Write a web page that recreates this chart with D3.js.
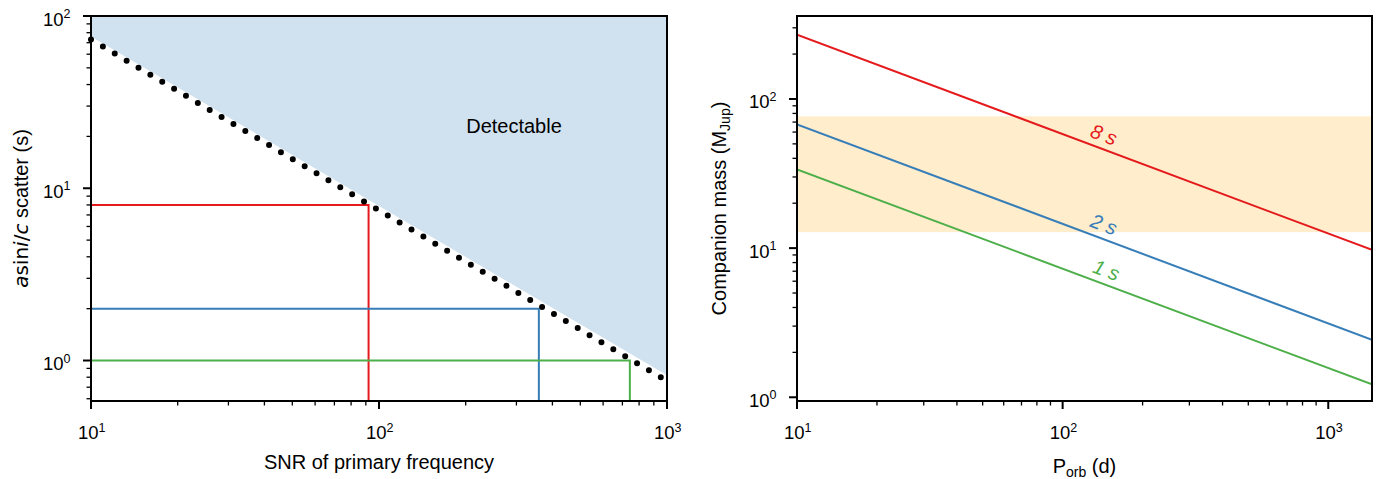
<!DOCTYPE html>
<html><head><meta charset="utf-8">
<script src="https://cdn.jsdelivr.net/npm/d3@7/dist/d3.min.js"></script>
<style>
body{margin:0;background:#fff;}
text{font-family:"Liberation Sans",Arial,sans-serif;fill:#000;}
</style></head>
<body><svg id="c" width="1382" height="479"></svg>
<script>
// ---- data ----
const snrDomain = [10, 1000];
const asiniDomain = [0.582, 100];
const boundarySNR = [10, 1000];
const boundaryAsini = [73, 0.76];        // dotted detection limit
const fillEdgeAsini = [76, 0.82];        // edge of shaded region
const cases = ["8 s", "2 s", "1 s"];
const caseAsini = [8, 2, 1];
const caseSNR = [92, 359, 743];
const caseColors = ["#e41a1c", "#377eb8", "#4daf4a"];

const porbDomain = [10, 1461];
const massDomain = [0.944, 360];
const porbEnds = [10, 1461];
const mass8 = [270, 9.73];
const mass2 = [67.5, 2.43];
const mass1 = [33.7, 1.22];
const massSeries = [mass8, mass2, mass1];
const bandMass = [12.8, 76.5];
const labelPorb = [137, 137, 140];

const svg = d3.select("#c");
const TICKF = 18.5, SUPF = 12.5, LABF = 20;

function sup(sel, base, exp){
  sel.append("tspan").text(base);
  sel.append("tspan").attr("dy",-7.5).attr("font-size",SUPF).text(exp);
}

function logAxes(g, x, y, x0, x1, y0, y1){
  const decX = d3.range(Math.ceil(Math.log10(x.domain()[0])-1e-9), Math.floor(Math.log10(x.domain()[1])+1e-9)+1);
  const decY = d3.range(Math.ceil(Math.log10(y.domain()[0])-1e-9), Math.floor(Math.log10(y.domain()[1])+1e-9)+1);
  const minor = (dom)=>{const r=[];for(let e=Math.floor(Math.log10(dom[0]));e<=Math.ceil(Math.log10(dom[1]));e++){for(let m=2;m<=9;m++){const v=m*Math.pow(10,e);if(v>=dom[0]*0.9999&&v<=dom[1]*1.0001)r.push(v);}}return r;};
  const ax = g.append("g");
  minor(x.domain()).forEach(v=>ax.append("line").attr("x1",x(v)).attr("x2",x(v)).attr("y1",y1).attr("y2",y1+4.5).attr("stroke","#000").attr("stroke-width",1.3));
  decX.forEach(e=>{
    const v=Math.pow(10,e);
    ax.append("line").attr("x1",x(v)).attr("x2",x(v)).attr("y1",y1).attr("y2",y1+8).attr("stroke","#000").attr("stroke-width",2);
    const t=ax.append("text").attr("x",x(v)-13).attr("y",y1+38).attr("font-size",TICKF);
    sup(t,"10",e);
  });
  minor(y.domain()).forEach(v=>ax.append("line").attr("y1",y(v)).attr("y2",y(v)).attr("x1",x0).attr("x2",x0-4.5).attr("stroke","#000").attr("stroke-width",1.3));
  decY.forEach(e=>{
    const v=Math.pow(10,e);
    ax.append("line").attr("y1",y(v)).attr("y2",y(v)).attr("x1",x0).attr("x2",x0-8).attr("stroke","#000").attr("stroke-width",2);
    const t=ax.append("text").attr("x",x0-48).attr("y",y(v)+9.5).attr("font-size",TICKF);
    sup(t,"10",e);
  });
  g.append("rect").attr("x",x0).attr("y",y0).attr("width",x1-x0).attr("height",y1-y0)
    .attr("fill","none").attr("stroke","#000").attr("stroke-width",2);
}

// ---- left panel ----
{
  const L=91,R=667,T=16,B=401;
  const x=d3.scaleLog().domain(snrDomain).range([L,R]);
  const y=d3.scaleLog().domain(asiniDomain).range([B,T]);
  const g=svg.append("g");
  g.append("defs").append("clipPath").attr("id","clipL").append("rect").attr("x",L).attr("y",T).attr("width",R-L).attr("height",B-T);
  const pg=g.append("g").attr("clip-path","url(#clipL)");
  const fillPts=boundarySNR.map((s,i)=>[s,fillEdgeAsini[i]]);
  pg.append("path").datum(fillPts)
    .attr("d",d3.area().x(d=>x(d[0])).y0(y(asiniDomain[1])).y1(d=>y(d[1])))
    .attr("fill","#d0e2ef");
  cases.forEach((c,i)=>{
    pg.append("path").datum([[snrDomain[0],caseAsini[i]],[caseSNR[i],caseAsini[i]],[caseSNR[i],asiniDomain[0]]])
      .attr("d",d3.line().x(d=>x(d[0])).y(d=>y(d[1])))
      .attr("fill","none").attr("stroke",caseColors[i]).attr("stroke-width",2);
  });
  const bPts=boundarySNR.map((s,i)=>[s,boundaryAsini[i]]);
  g.append("path").datum(bPts)
    .attr("d",d3.line().x(d=>x(d[0])).y(d=>y(d[1])))
    .attr("fill","none").attr("stroke","#000").attr("stroke-width",6)
    .attr("stroke-linecap","round").attr("stroke-dasharray","0,13.8");
  g.append("text").attr("x",514).attr("y",133).attr("text-anchor","middle").attr("font-size",LABF).text("Detectable");
  logAxes(g,x,y,L,R,T,B);
  g.append("text").attr("x",(L+R)/2).attr("y",469).attr("text-anchor","middle").attr("font-size",LABF).text("SNR of primary frequency");
  const yl=g.append("text").attr("transform",`translate(28,${(T+B)/2}) rotate(-90)`).attr("text-anchor","middle").attr("font-size",LABF);
  yl.append("tspan").style("font-family","DejaVu Sans").attr("font-style","italic").text("a");
  yl.append("tspan").style("font-family","DejaVu Sans").text("sin");
  yl.append("tspan").style("font-family","DejaVu Sans").attr("font-style","italic").text("i");
  yl.append("tspan").style("font-family","DejaVu Sans").text("/");
  yl.append("tspan").style("font-family","DejaVu Sans").attr("font-style","italic").text("c");
  yl.append("tspan").text(" scatter (s)");
}

// ---- right panel ----
{
  const L=797,R=1372,T=16,B=401;
  const x=d3.scaleLog().domain(porbDomain).range([L,R]);
  const y=d3.scaleLog().domain(massDomain).range([B,T]);
  const g=svg.append("g");
  g.append("defs").append("clipPath").attr("id","clipR").append("rect").attr("x",L).attr("y",T).attr("width",R-L).attr("height",B-T);
  const pg=g.append("g").attr("clip-path","url(#clipR)");
  pg.append("rect").attr("x",L).attr("width",R-L).attr("y",y(bandMass[1])).attr("height",y(bandMass[0])-y(bandMass[1])).attr("fill","#ffedcc");
  massSeries.forEach((m,i)=>{
    pg.append("path").datum(porbEnds.map((p,j)=>[p,m[j]]))
      .attr("d",d3.line().x(d=>x(d[0])).y(d=>y(d[1])))
      .attr("fill","none").attr("stroke",caseColors[i]).attr("stroke-width",2);
  });
  const ang = -Math.atan2(y(mass8[0])-y(mass8[1]), x(porbEnds[1])-x(porbEnds[0]))*180/Math.PI;
  massSeries.forEach((m,i)=>{
    const p=labelPorb[i];
    const slope=Math.log(m[1]/m[0])/Math.log(porbEnds[1]/porbEnds[0]);
    const mv=m[0]*Math.pow(p/porbEnds[0],slope);
    g.append("text").attr("transform",`translate(${x(p)},${y(mv)}) rotate(${ang}) translate(0,-7)`)
      .attr("text-anchor","middle").attr("font-size",LABF).attr("font-style","italic")
      .style("fill",caseColors[i]).text(cases[i]);
  });
  logAxes(g,x,y,L,R,T,B);
  const xl=g.append("text").attr("x",(L+R)/2).attr("y",473).attr("text-anchor","middle").attr("font-size",LABF);
  xl.append("tspan").text("P");
  xl.append("tspan").attr("dy",4).attr("font-size",14).text("orb");
  xl.append("tspan").attr("dy",-4).text(" (d)");
  const yl=g.append("text").attr("transform",`translate(726,${(T+B)/2}) rotate(-90)`).attr("text-anchor","middle").attr("font-size",LABF);
  yl.append("tspan").text("Companion mass (M");
  yl.append("tspan").attr("dy",4).attr("font-size",14).text("Jup");
  yl.append("tspan").attr("dy",-4).text(")");
}
</script></body></html>
